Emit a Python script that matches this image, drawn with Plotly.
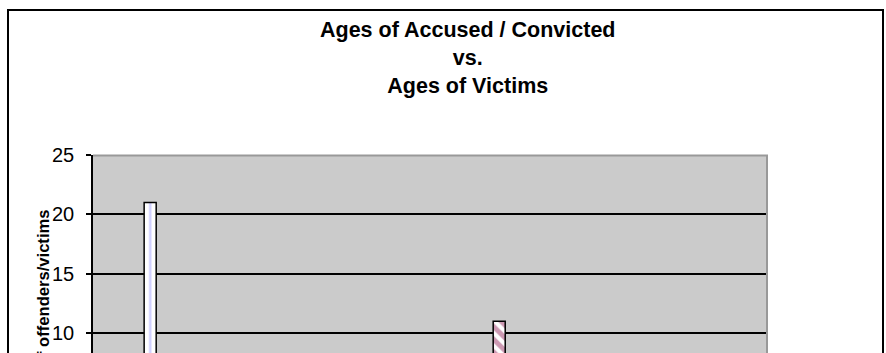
import plotly.graph_objects as go

# Age groups (x categories, below visible crop)
age_groups = ["0-4", "5-9", "10-14", "15-19", "20-24", "25-29", "30-34", "35-39",
              "40-44", "45-49", "50-54", "55-59", "60-64", "65-69", "70-74", "75+"]
# Series values (only the two tall bars are visible in the reference)
victims = [3, 21, 7, 4, 2, 1, 1, 0, 0, 0, 0, 0, 0, 0, 0, 0]
accused = [0, 0, 1, 2, 3, 4, 5, 6, 7, 11, 5, 3, 2, 1, 1, 0]
y_ticks = [10, 15, 20, 25]

FONT = "Liberation Sans, Arial, sans-serif"

fig = go.Figure()
fig.add_trace(go.Bar(
    x=age_groups, y=victims, name="Victims",
    marker=dict(color="white",
                line=dict(color="black", width=1.5),
                pattern=dict(shape="|", fgcolor="#9a9aff", bgcolor="white",
                             size=22.88, solidity=0.1, fillmode="overlay")),
))
fig.add_trace(go.Bar(
    x=age_groups, y=accused, name="Accused / Convicted",
    marker=dict(color="white",
                line=dict(color="black", width=1.5),
                pattern=dict(shape="\\", fgcolor="#993366", bgcolor="white",
                             size=9, solidity=0.55, fillmode="overlay")),
))

L, R, T, B = 93, 119, 155, 0
W, H = 886, 353
pw, ph = W - L - R, H - T - B

def px_x(p):
    return (p - L) / pw

def px_y(p):
    return (H - B - p) / ph

fig.update_layout(
    width=W, height=H,
    margin=dict(l=L, r=R, t=T, b=B, pad=0),
    paper_bgcolor="white",
    plot_bgcolor="#cbcbcb",
    barmode="group",
    bargap=0.4286,
    bargroupgap=0,
    showlegend=False,
    font=dict(family=FONT, color="black"),
    xaxis=dict(showgrid=False, zeroline=False, showticklabels=False, ticks=""),
    yaxis=dict(range=[8.33, 25], tickvals=y_ticks, showgrid=True,
               gridcolor="black", gridwidth=1.5, zeroline=False,
               showline=True, linecolor="black", linewidth=1.5,
               ticks="outside", ticklen=5, tickcolor="black", tickwidth=1.5,
               tickfont=dict(size=20, family=FONT, color="black"),
               ticklabelstandoff=8),
    shapes=[
        # outer chart border
        dict(type="rect", xref="paper", yref="paper",
             x0=px_x(8), x1=px_x(883), y0=px_y(420), y1=px_y(10),
             line=dict(color="black", width=2), fillcolor="rgba(0,0,0,0)",
             layer="above"),
        # plot area border (top & right, gray)
        dict(type="path", xref="paper", yref="paper",
             path=f"M {px_x(93)},{px_y(155.5)} L {px_x(767)},{px_y(155.5)} L {px_x(767)},{px_y(420)}",
             line=dict(color="#999999", width=2), layer="above"),
    ],
    annotations=[
        dict(text="<b>Ages of Accused / Convicted<br>vs.<br>Ages of Victims</b>",
             xref="paper", yref="paper", x=px_x(468), y=px_y(58),
             xanchor="center", yanchor="middle", showarrow=False,
             font=dict(size=21.5, family=FONT, color="black"), align="center"),
        dict(text="<b>Number of offenders/victims</b>",
             xref="paper", yref="paper", x=px_x(43), y=px_y(208),
             xanchor="center", yanchor="top", textangle=-90, showarrow=False,
             font=dict(size=16.6, family=FONT, color="black")),
    ],
)

fig.write_html(
    "out.html",
    config={"displayModeBar": False},
    post_script="document.body.style.margin='0';document.body.style.overflow='hidden';",
)
